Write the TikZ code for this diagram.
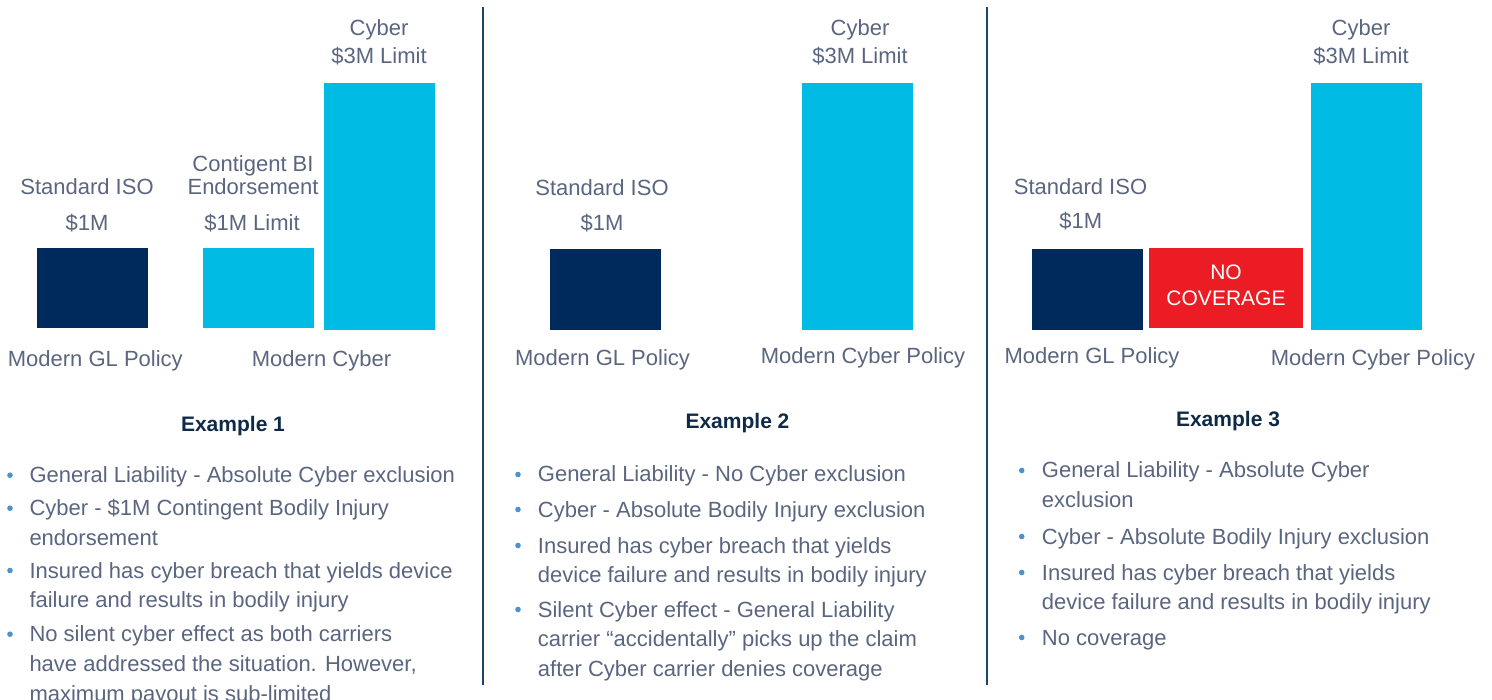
\documentclass[tikz,border=0pt]{standalone}
\usepackage{fontspec}
\setmainfont{Liberation Sans}
\definecolor{navybar}{HTML}{002A5C}
\definecolor{cyanbar}{HTML}{00BCE4}
\definecolor{redbar}{HTML}{EC1C24}
\definecolor{txtgray}{HTML}{5A6580}
\definecolor{headnavy}{HTML}{0F2A47}
\definecolor{dotblue}{HTML}{4D93CB}
\definecolor{divider}{HTML}{1D4373}
\begin{document}
\begin{tikzpicture}[x=1pt,y=-1pt,
  bar/.style={draw=none,inner sep=0pt,outer sep=0pt,anchor=north west},
  lbl/.style={anchor=base,inner sep=0pt,text=txtgray,font=\fontsize{22}{26}\selectfont},
  wlbl/.style={anchor=base,inner sep=0pt,text=white,font=\fontsize{21}{26}\selectfont},
  head/.style={anchor=base,inner sep=0pt,text=headnavy,font=\fontsize{21}{26}\selectfont\bfseries},
  item/.style={anchor=base west,inner sep=0pt,text=txtgray,font=\fontsize{22}{29.8}\selectfont},
  dot/.style={circle,fill=dotblue,inner sep=0pt,minimum size=5.6pt},
  divline/.style={draw=divider,line width=2pt}]
\useasboundingbox (0,0) rectangle (1492,700);

% dividers
\coordinate (d1t) at (482.5,7);
\coordinate (d1b) at (482.5,685);
\coordinate (d2t) at (986.5,7);
\coordinate (d2b) at (986.5,685);
\draw[divline] (d1t) -- (d1b);
\draw[divline] (d2t) -- (d2b);

% ---------- Panel 1 ----------
\node[bar,fill=navybar,minimum width=111pt,minimum height=80pt] (gl1) at (37,248) {};
\node[bar,fill=cyanbar,minimum width=111pt,minimum height=80pt] (cbi1) at (203,248) {};
\node[bar,fill=cyanbar,minimum width=111pt,minimum height=247pt] (cy1) at (324,83) {};
\node[lbl] (iso1) at (87,195) {Standard ISO};
\node[lbl] (m1a) at (87,231) {\$1M};
\node[lbl] (cbia) at (253,171.7) {Contigent BI};
\node[lbl] (cbib) at (253,195) {Endorsement};
\node[lbl] (cbic) at (252,231) {\$1M Limit};
\node[lbl] (cy1a) at (379,36) {Cyber};
\node[lbl] (cy1b) at (379,63.3) {\$3M Limit};
\node[lbl] (mgl1) at (95.3,366.7) {Modern GL Policy};
\node[lbl] (mcy1) at (321.5,366.7) {Modern Cyber};
\node[head] (ex1) at (233,432) {Example 1};
\node[dot] (b11) at (10,475.2) {};
\node[item] (t11) at (29.3,482.7) {\parbox[t]{450pt}{General Liability - Absolute Cyber exclusion}};
\node[dot] (b12) at (10,508.2) {};
\node[item] (t12) at (29.3,515.7) {\parbox[t]{450pt}{Cyber - \$1M Contingent Bodily Injury\\endorsement}};
\node[dot] (b13) at (10,570.5) {};
\node[item] (t13) at (29.3,578) {\parbox[t]{450pt}{Insured has cyber breach that yields device\\failure and results in bodily injury}};
\node[dot] (b14) at (10,634.2) {};
\node[item] (t14) at (29.3,641.7) {\parbox[t]{450pt}{No silent cyber effect as both carriers\\have addressed the situation. However,\\maximum payout is sub-limited}};

% ---------- Panel 2 ----------
\node[bar,fill=navybar,minimum width=111pt,minimum height=81pt] (gl2) at (550,249) {};
\node[bar,fill=cyanbar,minimum width=111pt,minimum height=247pt] (cy2) at (802,83) {};
\node[lbl] (iso2) at (602,196) {Standard ISO};
\node[lbl] (m2a) at (602,231) {\$1M};
\node[lbl] (cy2a) at (860,36) {Cyber};
\node[lbl] (cy2b) at (860,63.3) {\$3M Limit};
\node[lbl] (mgl2) at (602.5,365.7) {Modern GL Policy};
\node[lbl] (mcy2) at (863,363.3) {Modern Cyber Policy};
\node[head] (ex2) at (737.5,429) {Example 2};
\node[dot] (b21) at (518,474.5) {};
\node[item] (t21) at (537.7,482) {\parbox[t]{440pt}{General Liability - No Cyber exclusion}};
\node[dot] (b22) at (518,509.5) {};
\node[item] (t22) at (537.7,517) {\parbox[t]{440pt}{Cyber - Absolute Bodily Injury exclusion}};
\node[dot] (b23) at (518,545.5) {};
\node[item] (t23) at (537.7,553) {\parbox[t]{440pt}{Insured has cyber breach that yields\\device failure and results in bodily injury}};
\node[dot] (b24) at (518,609.5) {};
\node[item] (t24) at (537.7,617) {\parbox[t]{440pt}{Silent Cyber effect - General Liability\\carrier “accidentally” picks up the claim\\after Cyber carrier denies coverage}};

% ---------- Panel 3 ----------
\node[bar,fill=navybar,minimum width=111pt,minimum height=81pt] (gl3) at (1032,249) {};
\node[bar,fill=redbar,minimum width=154pt,minimum height=80pt] (nc3) at (1149,248) {};
\node[bar,fill=cyanbar,minimum width=111pt,minimum height=247pt] (cy3) at (1311,83) {};
\node[wlbl] (no3) at (1226,279.3) {NO};
\node[wlbl] (cov3) at (1226,305.7) {COVERAGE};
\node[lbl] (iso3) at (1080.5,195) {Standard ISO};
\node[lbl] (m3a) at (1080.7,228.3) {\$1M};
\node[lbl] (cy3a) at (1361,36) {Cyber};
\node[lbl] (cy3b) at (1361,63.3) {\$3M Limit};
\node[lbl] (mgl3) at (1092,364) {Modern GL Policy};
\node[lbl] (mcy3) at (1373,366) {Modern Cyber Policy};
\node[head] (ex3) at (1228,427) {Example 3};
\node[dot] (b31) at (1021.7,470.5) {};
\node[item] (t31) at (1041.7,478) {\parbox[t]{440pt}{General Liability - Absolute Cyber\\exclusion}};
\node[dot] (b32) at (1021.7,536.5) {};
\node[item] (t32) at (1041.7,544) {\parbox[t]{440pt}{Cyber - Absolute Bodily Injury exclusion}};
\node[dot] (b33) at (1021.7,572.5) {};
\node[item] (t33) at (1041.7,580) {\parbox[t]{440pt}{Insured has cyber breach that yields\\device failure and results in bodily injury}};
\node[dot] (b34) at (1021.7,637.5) {};
\node[item] (t34) at (1041.7,645) {\parbox[t]{440pt}{No coverage}};
\end{tikzpicture}
\end{document}
